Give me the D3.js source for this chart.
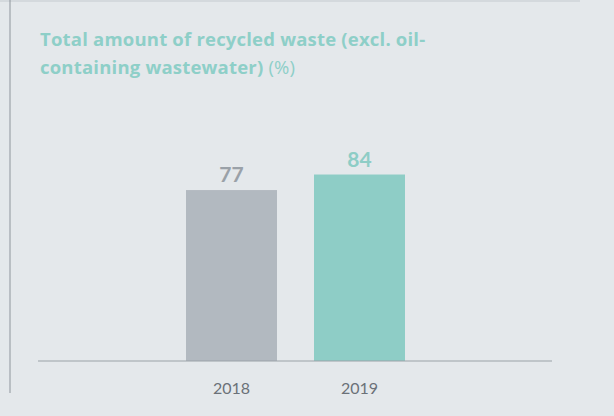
<!DOCTYPE html>
<html>
<head>
<meta charset="utf-8">
<script src="https://cdn.jsdelivr.net/npm/d3@7"></script>
<style>
  body { margin: 0; background: #e4e8eb; }
  svg { display: block; }
</style>
</head>
<body>
<div id="chart"></div>
<script>
const years = ["2018", "2019"];
const values = [77, 84];
const barColors = ["#b2b9c0", "#8ecdc6"];
const labelColors = ["#9aa1a8", "#8ecdc6"];
const titleLines = ["Total amount of recycled waste (excl. oil-", "containing wastewater)"];

const width = 614, height = 416;
const baseY = 361;

const svg = d3.select("#chart").append("svg")
  .attr("width", width)
  .attr("height", height);

svg.append("rect").attr("width", width).attr("height", height).attr("fill", "#e4e8eb");

// frame lines
svg.append("line").attr("x1", 0).attr("x2", 580).attr("y1", 1).attr("y2", 1)
  .attr("stroke", "#cfd4d9").attr("stroke-width", 1.5);
svg.append("line").attr("x1", 10).attr("x2", 10).attr("y1", 0).attr("y2", 393)
  .attr("stroke", "#8e959c").attr("stroke-width", 1);

// title
const title = svg.append("text")
  .attr("font-family", "'Open Sans', sans-serif")
  .attr("font-size", 18.5)
  .attr("letter-spacing", 0.2)
  .attr("fill", "#8ecfc8");
title.append("tspan").attr("x", 40).attr("y", 46).attr("font-weight", 700).text(titleLines[0]);
const l2 = title.append("tspan").attr("x", 40).attr("y", 74);
l2.append("tspan").attr("font-weight", 700).text(titleLines[1]);
l2.append("tspan").attr("font-weight", 400).text(" (%)");

const x = d3.scaleBand()
  .domain(years)
  .range([167.5, 423.5])
  .paddingInner(0.289)
  .paddingOuter(0.1445);

const y = d3.scaleLinear()
  .domain([0, 100])
  .range([baseY, baseY - 222]);

svg.selectAll("rect.bar")
  .data(values)
  .enter()
  .append("rect")
  .attr("class", "bar")
  .attr("x", (d, i) => x(years[i]))
  .attr("width", x.bandwidth())
  .attr("y", d => y(d))
  .attr("height", d => y(0) - y(d))
  .attr("fill", (d, i) => barColors[i]);

svg.selectAll("text.val")
  .data(values)
  .enter()
  .append("text")
  .attr("class", "val")
  .attr("x", (d, i) => x(years[i]) + x.bandwidth() / 2)
  .attr("y", d => y(d) - 8)
  .attr("text-anchor", "middle")
  .attr("font-family", "Lato, sans-serif")
  .attr("font-weight", 700)
  .attr("font-size", 21)
  .attr("fill", (d, i) => labelColors[i])
  .text(d => d);

// axis
const axis = svg.append("g")
  .attr("transform", `translate(0,${baseY})`)
  .call(d3.axisBottom(x).tickSize(0).tickPadding(22));
axis.select(".domain").remove();
axis.append("line").attr("x1", 38).attr("x2", 552).attr("y1", 0).attr("y2", 0)
  .attr("stroke", "#9aa1a8").attr("stroke-width", 1.2);
axis.selectAll("text")
  .attr("font-family", "Lato, sans-serif")
  .attr("font-size", 16)
  .attr("fill", "#6b7178");
</script>
</body>
</html>
